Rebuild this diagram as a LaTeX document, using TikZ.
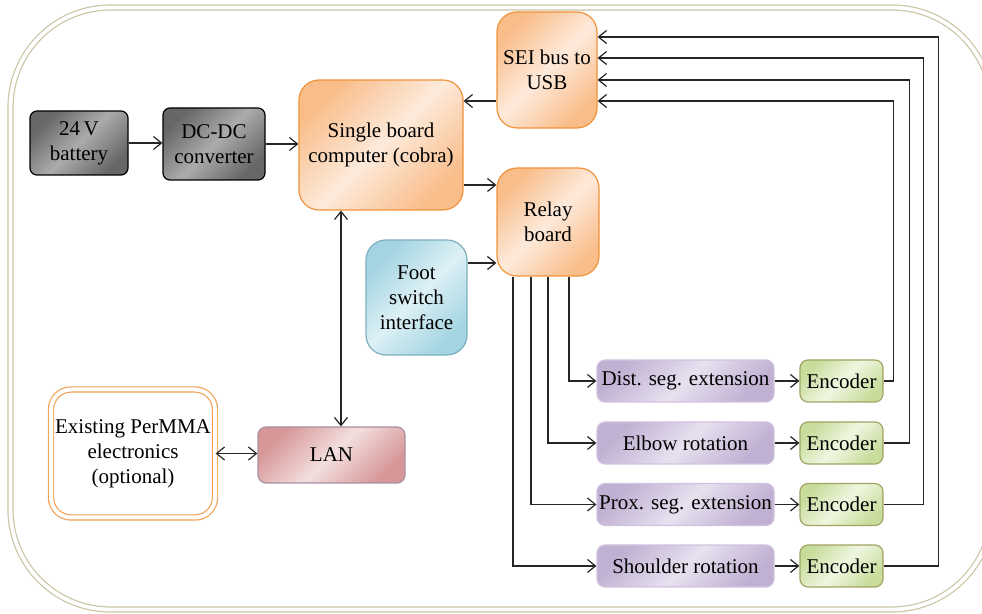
\documentclass[tikz,border=0pt]{standalone}
\usepackage{fontspec}
\setmainfont{Liberation Serif}
\usetikzlibrary{positioning,calc,arrows.meta}

\definecolor{framecol}{HTML}{C9C4A2}
\definecolor{grayfill}{HTML}{676767}
\definecolor{graylight}{HTML}{ABABAB}
\definecolor{orgfill}{HTML}{F9BD8A}
\definecolor{orglight}{HTML}{FDEADB}
\definecolor{orgline}{HTML}{F0923A}
\definecolor{bluefill}{HTML}{A2D4E1}
\definecolor{bluelight}{HTML}{DDF0F5}
\definecolor{blueline}{HTML}{7DAFBF}
\definecolor{lanfill}{HTML}{D79798}
\definecolor{lanlight}{HTML}{F3DEDE}
\definecolor{lanline}{HTML}{A98FA4}
\definecolor{jointfill}{HTML}{C0B0D2}
\definecolor{jointlight}{HTML}{E7E1EF}
\definecolor{jointline}{HTML}{D0C3DF}
\definecolor{encfill}{HTML}{C8DD9C}
\definecolor{enclight}{HTML}{EFF6E0}
\definecolor{encline}{HTML}{A3A366}

\begin{document}
\begin{tikzpicture}[>={Straight Barb[length=4pt,width=6.5pt]}, x=0.5pt, y=-0.5pt,
  font=\fontsize{10.5}{12.5}\selectfont,
  wire/.style={draw=black!85, line width=0.6pt},
  graybox/.style={rounded corners=3.5pt, draw=black, line width=0.6pt, align=center, inner sep=2pt,
    left color=grayfill, right color=grayfill, middle color=graylight, shading angle=45},
  orgbox/.style={rounded corners=10pt, draw=orgline, line width=0.6pt, align=center, inner sep=2pt,
    left color=orgfill, right color=orgfill, middle color=orglight, shading angle=45},
  footbox/.style={rounded corners=10pt, draw=blueline, line width=0.6pt, align=center, inner sep=2pt,
    left color=bluefill, right color=bluefill, middle color=bluelight, shading angle=45},
  lanbox/.style={rounded corners=4pt, draw=lanline, line width=0.6pt, align=center,
    left color=lanfill, right color=lanfill, middle color=lanlight, shading angle=45},
  jointbox/.style={rounded corners=4pt, draw=jointline, line width=0.6pt, align=center, inner sep=1pt,
    minimum width=88.5pt, minimum height=21pt,
    left color=jointfill, right color=jointfill, middle color=jointlight, shading angle=45},
  encbox/.style={rounded corners=4pt, draw=encline, line width=0.6pt, align=center, inner sep=1pt,
    minimum width=41.5pt, minimum height=21pt,
    left color=encfill, right color=encfill, middle color=enclight, shading angle=45},
  permbox/.style={rounded corners=10pt, draw=orgline!85, line width=0.6pt, double=white,
    double distance=2pt, align=center, inner sep=1pt}]

\useasboundingbox (0,0) rectangle (982,614);

% outer frame
\draw [draw=framecol, line width=0.6pt, double=white, double distance=1.9pt, rounded corners=50pt]
  (10.5,7.5) rectangle (992,609.5);

% power and computer
\node [graybox, minimum width=49pt, minimum height=32pt] (batt) at (79,143) {24\,V\\battery};
\node [graybox, minimum width=51pt, minimum height=36pt] (dcdc) at (214,144) {DC-DC\\converter};
\node [orgbox, minimum width=82pt, minimum height=65pt] (sbc) at (381,145) {Single board\\computer (cobra)};
\node [orgbox, minimum width=50pt, minimum height=58pt] (sei) at (547,70) {SEI bus to\\USB};
\node [orgbox, minimum width=51pt, minimum height=54pt] (relay) at (548,222) {Relay\\board};
\node [footbox, minimum width=50.5pt, minimum height=57.5pt] (foot) at (416.5,297.5) {Foot\\switch\\interface};
\node [lanbox, minimum width=73.5pt, minimum height=28pt] (lan) at (331.5,455) {LAN};
\node [permbox, minimum width=82pt, minimum height=64pt] (perm) at (133,453.5) {Existing PerMMA\\electronics\\(optional)};

% joints and encoders
\node [jointbox] (dist) at (685.5,381) {Dist. seg. extension};
\node [jointbox] (elbow) at (685.5,443) {Elbow rotation};
\node [jointbox] (prox) at (685.5,504.5) {Prox. seg. extension};
\node [jointbox] (shoulder) at (685.5,566) {Shoulder rotation};

\node [encbox] (encA) at (841.5,381) {Encoder};
\node [encbox] (encB) at (841.5,443) {Encoder};
\node [encbox] (encC) at (841.5,504.5) {Encoder};
\node [encbox] (encD) at (841.5,566) {Encoder};

\coordinate (usbA) at ($(sei.east)+(0,31)$);
\coordinate (usbB) at ($(sei.east)+(0,10)$);
\coordinate (usbC) at ($(sei.east)+(0,-12)$);
\coordinate (usbD) at ($(sei.east)+(0,-33)$);
\coordinate (usbout) at ($(sei.west)+(0,31)$);
\coordinate (ctl) at ($(sbc.east)+(0,40)$);
\coordinate (pedal) at ($(relay.west)+(0,41)$);
\coordinate (bus) at ($(sbc.south)+(-40,0)$);

\draw [wire,->] (batt.east) -- (batt.east -| dcdc.west);
\draw [wire,->] (dcdc.east) -- (dcdc.east -| sbc.west);
\draw [wire,->] (usbout) -- (usbout -| sbc.east);
\draw [wire,->] (ctl) -- (ctl -| relay.west);
\draw [wire,->] (pedal -| foot.east) -- (pedal);
\draw [wire,<->] (bus) -- (bus |- lan.north);
\draw [wire,<->] (perm.east) -- (perm.east -| lan.west);

% relay to joints
\draw [wire,->] ($(relay.south)+(21,0)$) |- (dist.west);
\draw [wire,->] ($(relay.south)+(0,0)$) |- (elbow.west);
\draw [wire,->] ($(relay.south)+(-17,0)$) |- (prox.west);
\draw [wire,->] ($(relay.south)+(-35,0)$) |- (shoulder.west);

\draw [wire,->] (dist) -- (encA);
\draw [wire,->] (elbow) -- (encB);
\draw [wire,->] (prox) -- (encC);
\draw [wire,->] (shoulder) -- (encD);

% encoders back to the bus
\draw [wire,->] (encA.east) -- ++(10,0) |- (usbA);
\draw [wire,->] (encB.east) -- ++(26,0) |- (usbB);
\draw [wire,->] (encC.east) -- ++(40,0) |- (usbC);
\draw [wire,->] (encD.east) -- ++(55,0) |- (usbD);

\end{tikzpicture}
\end{document}
